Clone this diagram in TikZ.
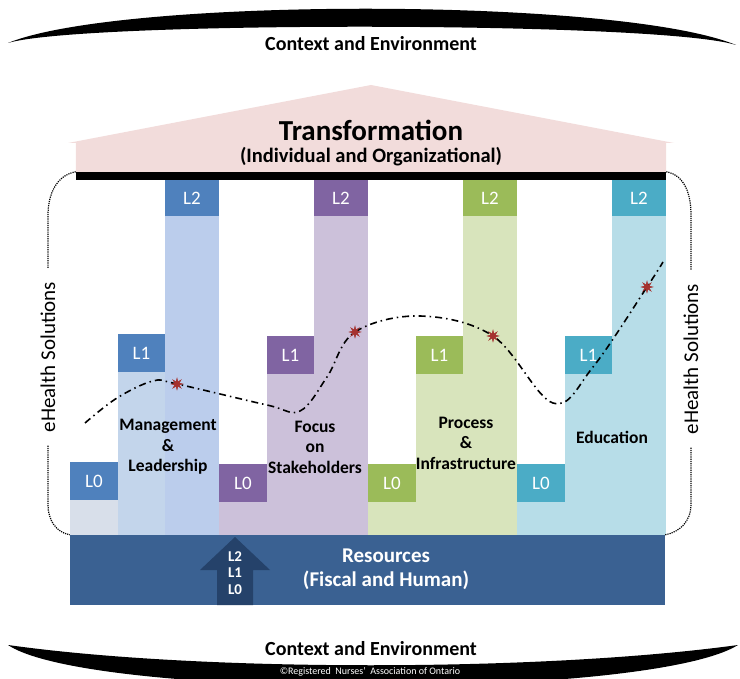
\documentclass[tikz,border=0pt]{standalone}
\usepackage{fontspec}
\setmainfont{Carlito}
\definecolor{bluedk}{RGB}{79, 129, 189}
\definecolor{bluelt}{RGB}{195, 213, 235}
\definecolor{bluepale}{RGB}{216, 223, 234}
\definecolor{purpledk}{RGB}{128, 100, 162}
\definecolor{purplelt}{RGB}{204, 193, 218}
\definecolor{greendk}{RGB}{155, 187, 89}
\definecolor{greenlt}{RGB}{216, 228, 188}
\definecolor{tealdk}{RGB}{75, 172, 198}
\definecolor{teallt}{RGB}{183, 221, 232}
\definecolor{resblue}{RGB}{58, 97, 146}
\definecolor{arrowblue}{RGB}{37, 66, 106}
\definecolor{roofpink}{RGB}{242, 220, 219}
\definecolor{starred}{RGB}{165, 50, 47}
\usetikzlibrary{shapes.geometric, positioning, calc}

\begin{document}
\begin{tikzpicture}[x=1pt, y=-1pt,
  lvl/.style={text=white, inner sep=0pt, minimum height=38pt,
              font=\fontsize{19}{19}\selectfont},
  pillar/.style={font=\fontsize{17.5}{20.5}\selectfont\bfseries, align=center},
  starmark/.style={star, star points=8, star point ratio=2.6, fill=starred,
                   minimum size=13pt, inner sep=0pt},
  ehealth/.style={rotate=90, font=\fontsize{21}{21}\selectfont},
  ehdots/.style={densely dotted, line width=1.2pt},
  trend/.style={line width=1.6pt, dash pattern=on 7pt off 4pt on 1.5pt off 4pt},
]
\useasboundingbox (0,0) rectangle (740,679);

% Context bands
\fill (8,43) .. controls (120,-3) and (620,-3) .. (736,45)
      .. controls (660,21) and (80,21) .. cycle;
\fill (8,645) .. controls (200,672) and (540,672) .. (738,645)
      .. controls (650,700) and (90,700) .. cycle;
\node[font=\fontsize{20}{20}\selectfont\bfseries] (ctxtop) at (371,44) {Context and Environment};
\node[font=\fontsize{20}{20}\selectfont\bfseries] (ctxbot) at (371,649) {Context and Environment};
\node[font=\fontsize{10}{10}\selectfont, text=white] (copy) at (370,672)
     {©Registered\ \ Nurses'\ \ Association of Ontario};

% Roof
\node[fill=black, minimum width=590pt, minimum height=8pt, inner sep=0pt] (bar) at (371,176) {};
\fill[roofpink] (bar.north west) -- (76,143) -- (68,143) -- (371,85) -- (674,143)
      -- (666,143) -- (bar.north east) -- cycle;
\node[font=\fontsize{29}{29}\selectfont\bfseries] (trans) at (371,130) {Transformation};
\node[font=\fontsize{20.5}{20.5}\selectfont\bfseries] (transsub) at (371,157) {(Individual and Organizational)};

% Resources base
\node[fill=resblue, minimum width=595pt, minimum height=70pt, inner sep=0pt] (res) at (367.5,570) {};
\fill[arrowblue] (217,605) -- (217,570) -- (200,570) -- (235,537) -- (270,570)
      -- (253,570) -- (253,605) -- cycle;
\node[text=white, font=\fontsize{15}{16.5}\selectfont\bfseries, align=center] (arrtxt) at (235,573) {L2\\L1\\L0};
\node[text=white, font=\fontsize{21}{24}\selectfont\bfseries, align=center] (restxt) at (386,569)
     {Resources\\(Fiscal and Human)};

% Level labels
\node[lvl, fill=bluedk, minimum width=48pt] (m0) at (94,481) {L0};
\node[lvl, fill=bluedk, minimum width=47pt] (m1) at (141.5,353) {L1};
\node[lvl, fill=bluedk, minimum width=54pt, minimum height=36pt] (m2) at (192,198) {L2};
\node[lvl, fill=purpledk, minimum width=48pt] (f0) at (243,483) {L0};
\node[lvl, fill=purpledk, minimum width=47pt] (f1) at (290.5,355) {L1};
\node[lvl, fill=purpledk, minimum width=54pt, minimum height=36pt] (f2) at (341,198) {L2};
\node[lvl, fill=greendk, minimum width=48pt] (p0) at (392,483) {L0};
\node[lvl, fill=greendk, minimum width=47pt] (p1) at (439.5,355) {L1};
\node[lvl, fill=greendk, minimum width=54pt, minimum height=36pt] (p2) at (490,198) {L2};
\node[lvl, fill=tealdk, minimum width=48pt] (e0) at (541,483) {L0};
\node[lvl, fill=tealdk, minimum width=47pt] (e1) at (588.5,355) {L1};
\node[lvl, fill=tealdk, minimum width=54pt, minimum height=36pt] (e2) at (639,198) {L2};

% Pillars
\fill[bluepale] (m0.south west) rectangle (m0.east |- res.north);
\fill[bluelt] (m1.south west) rectangle (m1.east |- res.north);
\fill[bluelt!96!blue] (m2.south west) rectangle (m2.east |- res.north);
\fill[purplelt] (f0.south west) rectangle (f0.east |- res.north);
\fill[purplelt] (f1.south west) rectangle (f1.east |- res.north);
\fill[purplelt] (f2.south west) rectangle (f2.east |- res.north);
\fill[greenlt] (p0.south west) rectangle (p0.east |- res.north);
\fill[greenlt] (p1.south west) rectangle (p1.east |- res.north);
\fill[greenlt] (p2.south west) rectangle (p2.east |- res.north);
\fill[teallt] (e0.south west) rectangle (e0.east |- res.north);
\fill[teallt] (e1.south west) rectangle (e1.east |- res.north);
\fill[teallt] (e2.south west) rectangle (e2.east |- res.north);

\node[pillar] (mgmt) at (168,447) {Management\\\&\\Leadership};
\node[pillar] (focus) at (315,447) {Focus\\on\\Stakeholders};
\node[pillar] (proc) at (466,443) {Process\\\&\\Infrastructure};
\node[pillar] (edu) at (612,437) {Education};

% Progress curve
\node[starmark] (s1) at (177,384) {};
\node[starmark] (s2) at (355,332) {};
\node[starmark] (s3) at (493,336) {};
\node[starmark] (s4) at (647,287) {};
\draw[trend] plot[smooth, tension=0.6] coordinates {(85,423) (117,398) (153,381) (s1.center)
      (267,405) (300,411) (327,377) (s2.center) (420,316) (s3.center) (553,403)
      (593,367) (s4.center) (663,262)};
\node[starmark] at (s1) {};
\node[starmark] at (s2) {};
\node[starmark] at (s3) {};
\node[starmark] at (s4) {};

% eHealth brackets
\node[ehealth] (ehl) at (48,357) {eHealth Solutions};
\node[ehealth] (ehr) at (691,359) {eHealth Solutions};
\draw[ehdots] (bar.north west) to[out=190, in=90] (48,215) -- ([yshift=10pt]ehl.east);
\draw[ehdots] ([yshift=-10pt]ehl.west) -- (48,505) to[out=-90, in=170] (res.north west);
\draw[ehdots] (bar.north east) to[out=-10, in=90] (691,215) -- ([yshift=10pt]ehr.east);
\draw[ehdots] ([yshift=-10pt]ehr.west) -- (691,505) to[out=-90, in=10] (res.north east);
\end{tikzpicture}
\end{document}
